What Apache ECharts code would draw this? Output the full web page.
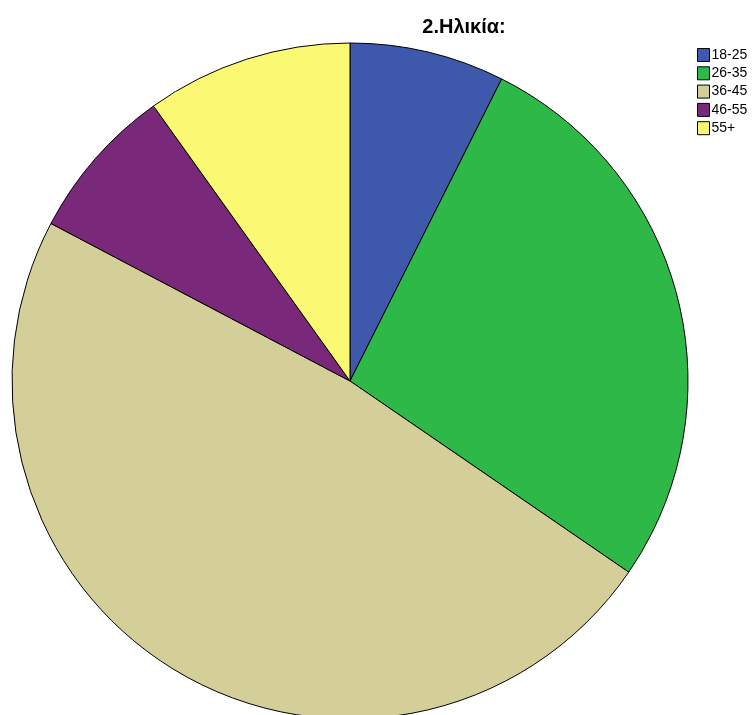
<!DOCTYPE html>
<html><head><meta charset="utf-8">
<script src="https://cdn.jsdelivr.net/npm/echarts@6/dist/echarts.min.js"></script>
<style>html,body{margin:0;padding:0;background:#fff}#c{width:755px;height:715px}</style>
</head><body><div id="c"></div>
<script>
const categories = ['18-25','26-35','36-45','46-55','55+'];
const values = [6,22,39,6,8];
const colors = ['#3E58AC','#2EB848','#D4CE99','#7A2879','#FBF873'];
const chart = echarts.init(document.getElementById('c'));
chart.setOption({
  animation:false,
  title:{text:'2.Ηλικία:',left:459,top:12,textAlign:'center',textStyle:{fontFamily:'Liberation Sans, Arial',fontSize:20,fontWeight:'bold',color:'#000'}},
  legend:{orient:'vertical',left:692,top:43,itemWidth:12,itemHeight:13,itemGap:4.3,icon:'rect',
    itemStyle:{borderColor:'#000',borderWidth:1},
    textStyle:{fontFamily:'Liberation Sans, Arial',fontSize:14,color:'#000',padding:[0,0,0,-3]},
    data:categories},
  series:[{type:'pie',center:[350,381],radius:338,startAngle:90,clockwise:true,
    label:{show:false},labelLine:{show:false},
    itemStyle:{borderColor:'#000',borderWidth:1},
    emphasis:{disabled:true},
    data:categories.map((n,i)=>({name:n,value:values[i],itemStyle:{color:colors[i]}}))}]
});
</script></body></html>
